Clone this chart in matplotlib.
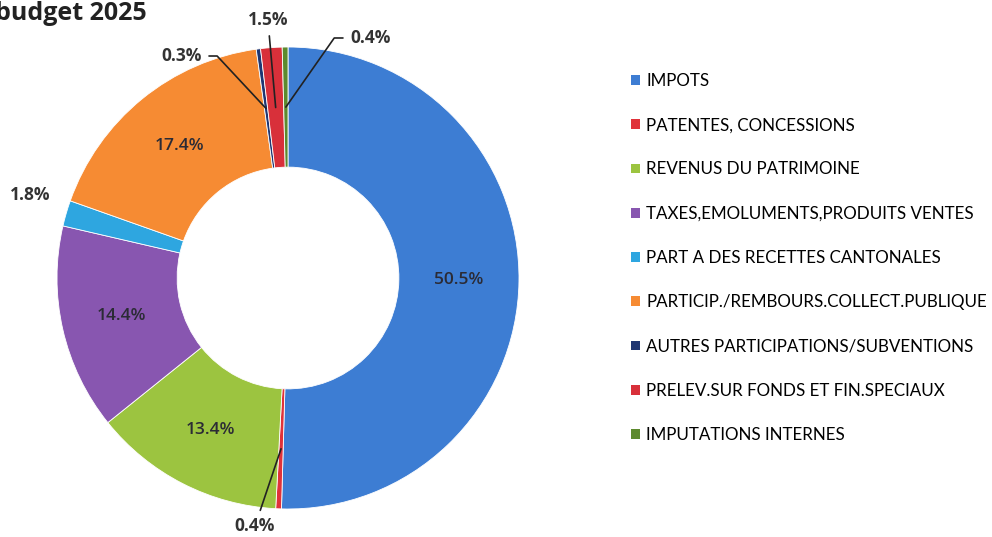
import matplotlib
matplotlib.use("Agg")
import matplotlib.pyplot as plt
from matplotlib.patches import Patch
import math

plt.rcParams['font.family'] = ['Lato', 'DejaVu Sans']

categories = ["IMPOTS", "PATENTES, CONCESSIONS", "REVENUS DU PATRIMOINE",
              "TAXES,EMOLUMENTS,PRODUITS VENTES", "PART A DES RECETTES CANTONALES",
              "PARTICIP./REMBOURS.COLLECT.PUBLIQUE", "AUTRES PARTICIPATIONS/SUBVENTIONS",
              "PRELEV.SUR FONDS ET FIN.SPECIAUX", "IMPUTATIONS INTERNES"]
values = [50.5, 0.4, 13.4, 14.4, 1.8, 17.4, 0.3, 1.5, 0.4]
colors = ["#3d7dd3", "#e0323a", "#9cc440", "#8856b0", "#2ea6e0",
          "#f68b33", "#1f3672", "#d8303a", "#5d8a2e"]

# labels placed outside for the thin slices (text pos in pie units, ha, leader)
outside = {
    1: ((-0.143, -1.074), "center", None),
    4: ((-1.117, 0.359), "center", "none"),
    6: ((-0.372, 0.961), "right", "angle,angleA=0,angleB=-47"),
    7: ((-0.087, 1.117), "center", None),
    8: ((0.268, 1.039), "left", "angle,angleA=0,angleB=55"),
}
lab_font = ['Open Sans', 'DejaVu Sans']

fig = plt.figure(figsize=(9.92, 5.37), dpi=100)
ax = fig.add_axes([57 / 992, 28 / 537, 462 / 992, 462 / 537])

wedges, _ = ax.pie(values, colors=colors, startangle=90, counterclock=False,
                   radius=1.0, wedgeprops=dict(width=0.52, edgecolor="white", linewidth=0.6))
ax.set_xlim(-1, 1)
ax.set_ylim(-1, 1)
ax.set_aspect("equal")

for i, w in enumerate(wedges):
    mid = math.radians((w.theta1 + w.theta2) / 2)
    r = 0.74
    px, py = r * math.cos(mid), r * math.sin(mid)
    txt = f"{values[i]:.1f}%"
    if i in outside:
        pos, ha, conn = outside[i]
        if conn == "none":
            ax.text(pos[0], pos[1], txt, ha=ha, va="center", fontsize=12.5,
                    fontweight="bold", color="#333333", family=lab_font)
            continue
        ap = dict(arrowstyle="-", color="#222222", lw=1.2, shrinkA=3, shrinkB=0)
        if conn:
            ap["connectionstyle"] = conn
        ax.annotate(txt, xy=(px, py), xytext=pos, ha=ha, va="center",
                    fontsize=12.5, fontweight="bold", color="#333333",
                    family=lab_font, arrowprops=ap, annotation_clip=False)
    else:
        ax.text(px, py, txt, ha="center", va="center", fontsize=12.5,
                fontweight="semibold", color="#2b2b35", family=lab_font)

handles = [Patch(facecolor=c, edgecolor="none") for c in colors]
fig.legend(handles, categories, loc="upper left",
           bbox_to_anchor=(631 / 992, 1 - 73 / 537), frameon=False,
           fontsize=12.25, labelspacing=1.66, handlelength=0.5, handleheight=0.5,
           handletextpad=0.4, borderpad=0, borderaxespad=0)

fig.text(-5 / 992, 1 - 1 / 537, "budget 2025", ha="left", va="top",
         fontsize=18, fontweight="bold", color="#222222", family=lab_font)

fig.savefig("out.png", dpi=100, facecolor="white")
